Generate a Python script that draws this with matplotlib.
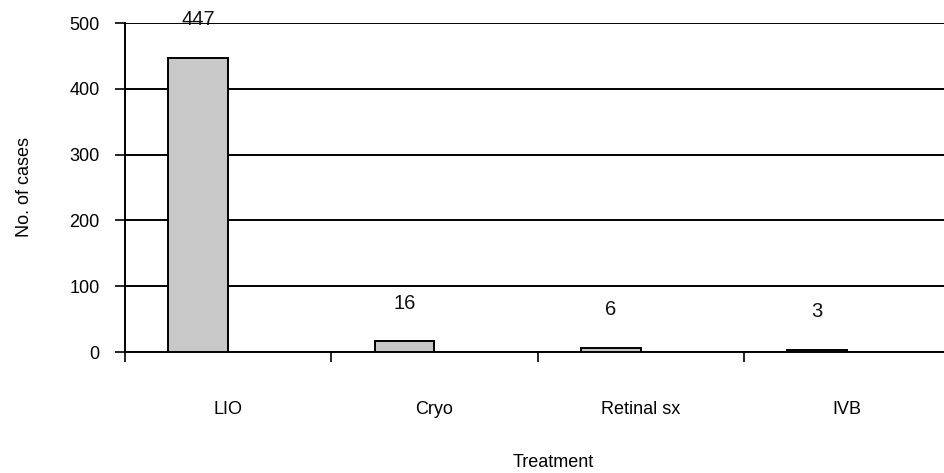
import matplotlib
matplotlib.use("Agg")
import matplotlib.pyplot as plt
from matplotlib.ticker import FixedLocator

plt.rcParams['font.family'] = ['Liberation Sans', 'DejaVu Sans']

categories = ["LIO", "Cryo", "Retinal sx", "IVB"]
values = [447, 16, 6, 3]
yticks = [0, 100, 200, 300, 400, 500]

W, H = 944, 473
fig = plt.figure(figsize=(W / 100, H / 100), dpi=100)
ax = fig.add_axes([125 / W, (H - 352) / H, 825 / W, 329 / H])

x = list(range(len(categories)))
bar_w = 0.29
bars = ax.bar([i - bar_w for i in x], values, width=bar_w, align='edge',
              color='#c8c8c8', edgecolor='black', linewidth=1.4, zorder=3)

for i, v in zip(x, values):
    ax.annotate(str(v), xy=(i - bar_w / 2, v), xytext=(0, 27.5),
                textcoords='offset points', ha='center', va='center',
                fontsize=14.5, color='#111111', zorder=4)

ax.set_xlim(-0.5, 3.5)
ax.set_ylim(0, 500)
ax.set_yticks(yticks)
ax.set_yticklabels([str(t) for t in yticks])
ax.yaxis.grid(True, color='black', linewidth=1.4, zorder=1)
ax.set_axisbelow(True)

ax.set_xticks(x)
ax.set_xticklabels(categories)
ax.xaxis.set_minor_locator(FixedLocator([-0.5, 0.5, 1.5, 2.5, 3.5]))
ax.tick_params(axis='x', which='major', length=0, pad=35, labelsize=13)
ax.tick_params(axis='x', which='minor', length=7.2, width=1.2, direction='out')
ax.tick_params(axis='y', length=7.2, width=1.2, direction='out', pad=11, labelsize=13)

for s in ['top', 'right']:
    ax.spines[s].set_visible(False)
ax.spines['left'].set_linewidth(1.4)
ax.spines['bottom'].set_linewidth(1.4)

fig.text(25 / W, 1 - 187 / H, "No. of cases", rotation=90, ha='center', va='center', fontsize=13)
fig.text(553 / W, 1 - 462 / H, "Treatment", ha='center', va='center', fontsize=13)

fig.savefig("out.png", dpi=100)
